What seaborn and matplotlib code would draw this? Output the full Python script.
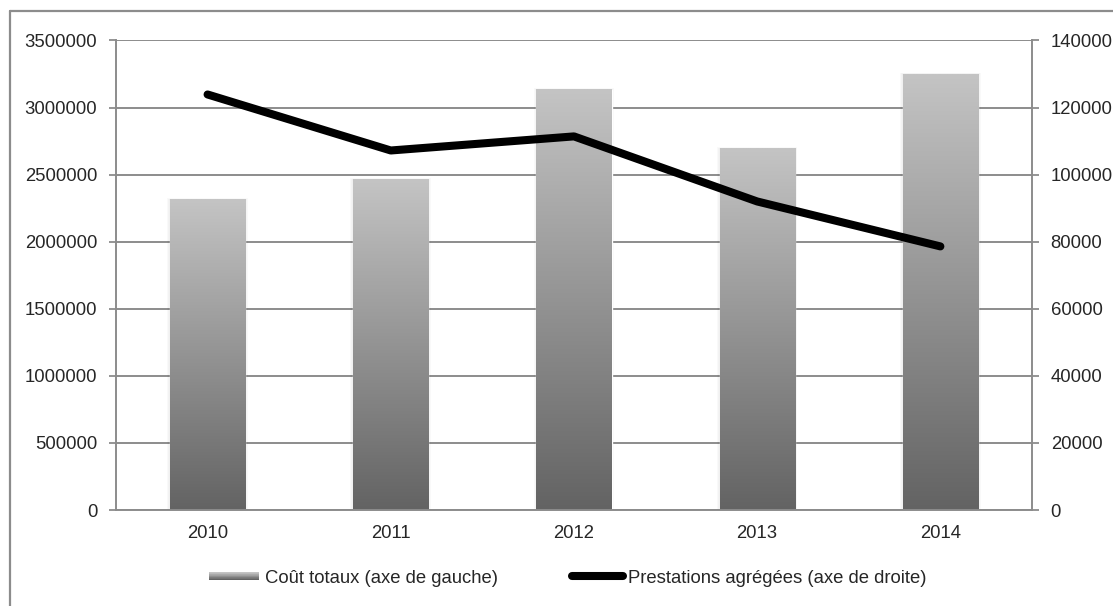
import matplotlib
matplotlib.use('Agg')
import matplotlib.pyplot as plt
import numpy as np
import pandas as pd
import seaborn as sns
from matplotlib.colors import LinearSegmentedColormap
from matplotlib.patches import Patch, Rectangle
from matplotlib.lines import Line2D
from matplotlib.legend_handler import HandlerBase

# Data
years = ['2010', '2011', '2012', '2013', '2014']
couts = [2313000, 2463000, 3134000, 2694000, 3246000]
prestations = [123900, 107200, 111400, 92000, 78600]

df = pd.DataFrame({'annee': years, 'cout': couts, 'prest': prestations})

sns.set_style('white')
plt.rcParams['font.family'] = ['Liberation Sans', 'DejaVu Sans']
fs = 13.3
plt.rcParams['font.size'] = fs

grey = '#8c8c8c'
bar_cmap = LinearSegmentedColormap.from_list('bar', ['#636363', '#c4c4c4'])


class GradientHandler(HandlerBase):
    def create_artists(self, legend, orig_handle, xdescent, ydescent,
                       width, height, fontsize, trans):
        arts = []
        n = 12
        h = height * 0.6
        y0 = -ydescent + (height - h) / 2
        for i in range(n):
            arts.append(Rectangle((-xdescent, y0 + h * i / n), width, h / n,
                                  facecolor=bar_cmap(i / (n - 1)),
                                  edgecolor='none', transform=trans))
        return arts


fig = plt.figure(figsize=(11.13, 6.06), dpi=100)
ax = fig.add_axes([0.1042, 0.1584, 0.8230, 0.7748])

sns.barplot(data=df, x='annee', y='cout', width=0.41, color='#999999',
            ax=ax, zorder=2)

# gradient fill for each bar (light on top, dark at bottom)
grad = np.linspace(0, 1, 256).reshape(-1, 1)
for p in list(ax.patches):
    x0, w, h = p.get_x(), p.get_width(), p.get_height()
    # soft shadow
    for k in [0.03, 0.02, 0.01]:
        ax.add_patch(Rectangle((x0 - k / 2, 0), w + k, h + 4000 * k / 0.01,
                               facecolor='black', alpha=0.025, edgecolor='none', zorder=1.5))
    ax.imshow(grad, extent=[x0, x0 + w, 0, h], origin='lower', cmap=bar_cmap,
              aspect='auto', zorder=2.5)
    p.set_facecolor('none')

ax.set_xlim(-0.5, len(years) - 0.5)
ax.set_ylim(0, 3500000)
ax.set_yticks(np.arange(0, 3500001, 500000))
ax.set_yticklabels([str(int(v)) for v in np.arange(0, 3500001, 500000)])
ax.grid(axis='y', color=grey, linewidth=1.4)
ax.set_axisbelow(True)
ax.set_xlabel('')
ax.set_ylabel('')
ax.tick_params(axis='y', length=5, width=1.3, color=grey, pad=8.5, labelsize=fs)
ax.tick_params(axis='x', length=0, pad=11, labelsize=fs)
for s in ['top', 'right']:
    ax.spines[s].set_visible(False)
for s in ['left', 'bottom']:
    ax.spines[s].set_color(grey)
    ax.spines[s].set_linewidth(1.4)

ax2 = ax.twinx()
sns.lineplot(x=np.arange(len(years)), y=df['prest'], ax=ax2, color='black',
             linewidth=5.8, solid_capstyle='round', solid_joinstyle='round')
ax2.set_ylim(0, 140000)
ax2.set_yticks(np.arange(0, 140001, 20000))
ax2.set_yticklabels([str(int(v)) for v in np.arange(0, 140001, 20000)])
ax2.set_ylabel('')
ax2.tick_params(axis='y', length=5, width=1.3, color=grey, pad=8.5, labelsize=fs)
for s in ['top', 'left', 'bottom']:
    ax2.spines[s].set_visible(False)
ax2.spines['right'].set_color(grey)
ax2.spines['right'].set_linewidth(1.4)

bar_handle = Patch(label='Coût totaux (axe de gauche)')
line_handle = Line2D([], [], color='black', linewidth=5.8, solid_capstyle='round',
                     label='Prestations agrégées (axe de droite)')
fig.legend(handles=[bar_handle, line_handle], loc='center',
           bbox_to_anchor=(0.51, 0.046), ncol=2, frameon=False,
           handlelength=2.75, handletextpad=0.3, columnspacing=4.0,
           handler_map={bar_handle: GradientHandler()}, fontsize=fs)

# outer chart frame (left and top edges visible)
fig.add_artist(Line2D([10 / 1113, 10 / 1113], [0, 1 - 11 / 606],
                      transform=fig.transFigure, color=grey, linewidth=1.6))
fig.add_artist(Line2D([10 / 1113, 1], [1 - 11 / 606, 1 - 11 / 606],
                      transform=fig.transFigure, color=grey, linewidth=1.6))

fig.savefig('out.png', dpi=100)
